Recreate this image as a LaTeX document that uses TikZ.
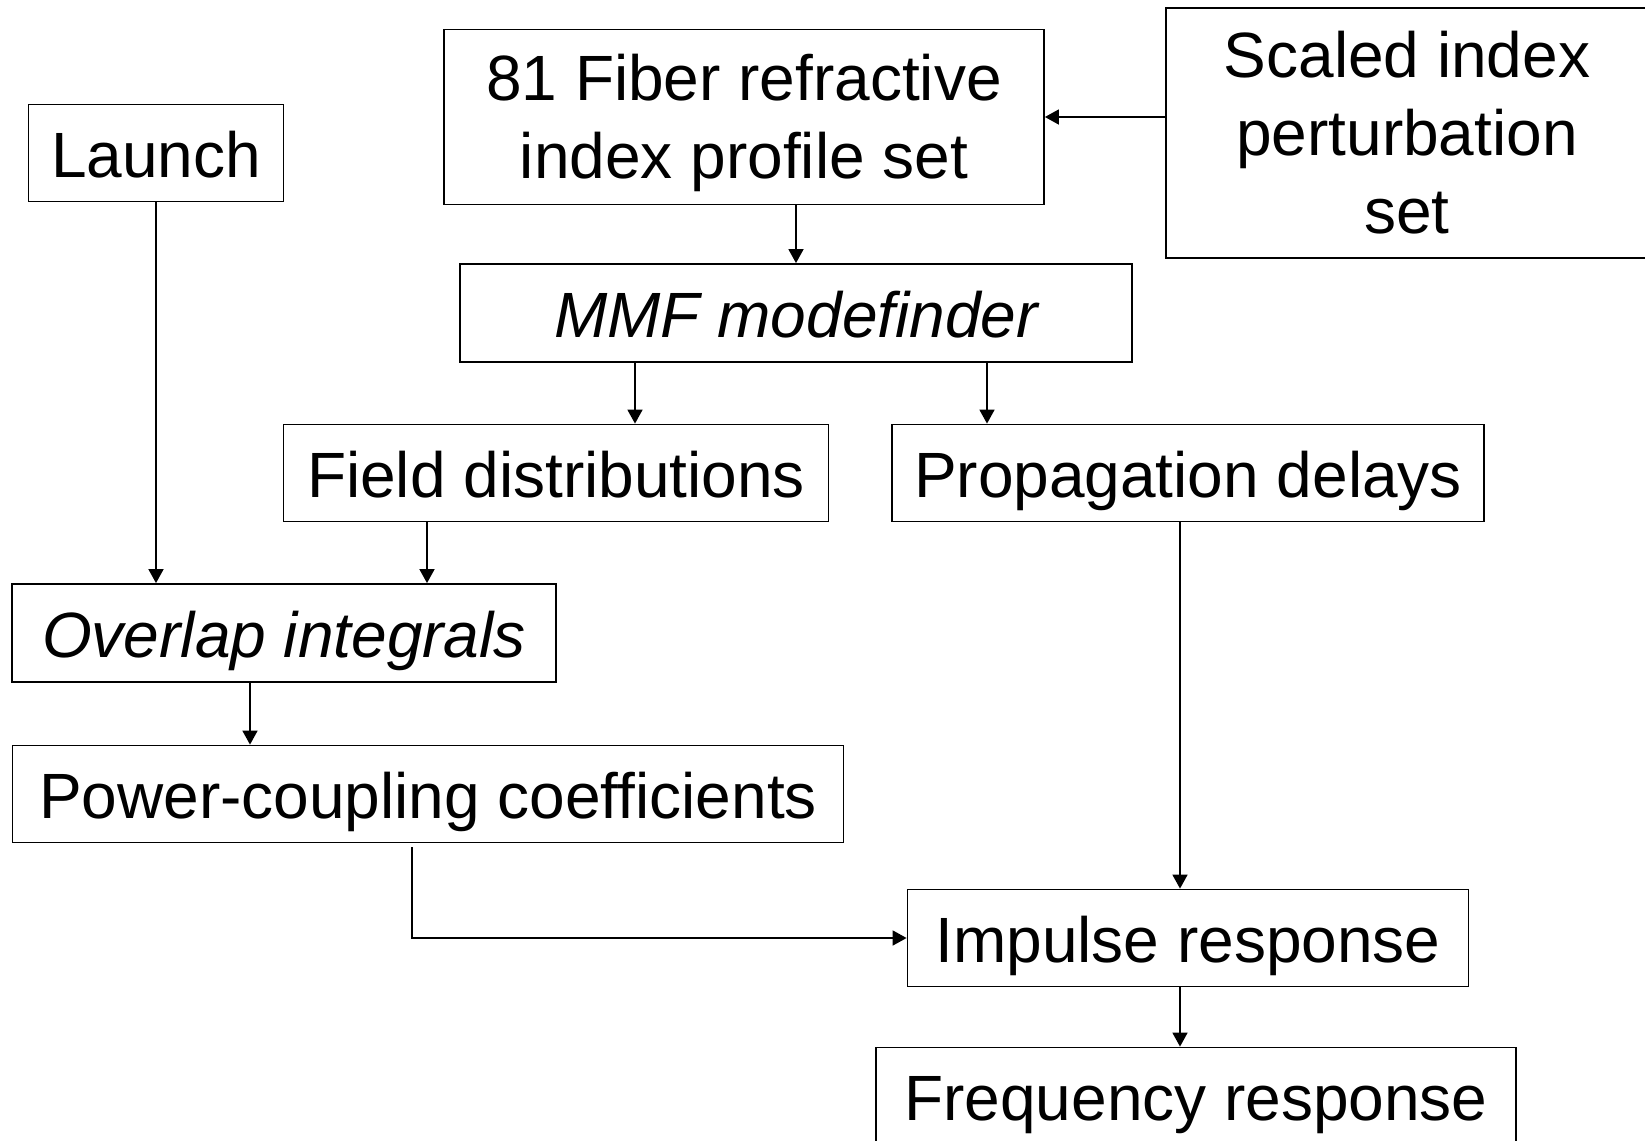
\documentclass[tikz,border=0pt]{standalone}
\usepackage{fontspec}
\setmainfont{Liberation Sans}
\usetikzlibrary{shapes,arrows.meta}

\tikzset{
  box/.style={draw, line width=0.9pt, rectangle, inner sep=0pt, align=center,
    font=\fontsize{32}{39}\selectfont, minimum height=48.5pt},
  oneline/.style={text height=24.5pt, text depth=0pt},
  arr/.style={line width=0.85pt, -{Triangle[length=7pt,width=7.5pt]}},
}

\begin{document}
\begin{tikzpicture}[x=0.5pt,y=-0.5pt]
\useasboundingbox (0,0) rectangle (1645,1141);

%Shape: Rectangle [launch]
\node [box, oneline, minimum width=127.5pt] (launch) at (156,153) {Launch};
%Shape: Rectangle [fiber]
\node [box, text height=68.5pt, text depth=6.7pt, minimum width=300pt, minimum height=87.5pt] (fiber) at (744,117) {81 Fiber refractive\\index profile set};
%Shape: Rectangle [scaled]
\node [box, minimum width=241pt, minimum height=125pt] (scaled) at (1407,133) {Scaled index\\perturbation\\set};
%Shape: Rectangle [mmf]
\node [box, oneline, minimum width=336pt, minimum height=49pt] (mmf) at (796,313) {\itshape MMF modefinder};
%Shape: Rectangle [field]
\node [box, oneline, minimum width=272.5pt] (field) at (556,473) {Field distributions};
%Shape: Rectangle [prop]
\node [box, oneline, minimum width=296pt] (prop) at (1188,473) {Propagation delays};
%Shape: Rectangle [overlap]
\node [box, oneline, minimum width=272pt, minimum height=49pt] (overlap) at (284,633) {\itshape Overlap integrals};
%Shape: Rectangle [power]
\node [box, oneline, minimum width=415.5pt] (power) at (428,794) {Power-coupling coefficients};
%Shape: Rectangle [impulse]
\node [box, oneline, minimum width=280.5pt] (impulse) at (1188,938) {Impulse response};
%Shape: Rectangle [freq]
\node [box, oneline, minimum width=320pt] (freq) at (1196,1096) {Frequency response};

%Straight Lines
\draw [arr] (scaled.west |- fiber.east) -- (fiber.east);
\draw [arr] (fiber.south -| mmf.north) -- (mmf.north);
\draw [arr] ([xshift=-80.5pt]mmf.south) -- ([xshift=-80.5pt]mmf.south |- field.north);
\draw [arr] ([xshift=95.5pt]mmf.south) -- ([xshift=95.5pt]mmf.south |- prop.north);
\draw [arr] (launch.south) -- (launch.south |- overlap.north);
\draw [arr] ([xshift=-64.5pt]field.south) -- ([xshift=-64.5pt]field.south |- overlap.north);
\draw [arr] ([xshift=-17pt]overlap.south) -- ([xshift=-17pt]overlap.south |- power.north);
\draw [arr] ([xshift=-8pt,yshift=-2pt]power.south) |- (impulse.west);
\draw [arr] ([xshift=-4pt]prop.south) -- ([xshift=-4pt]prop.south |- impulse.north);
\draw [arr] ([xshift=-4pt]impulse.south) -- ([xshift=-4pt]impulse.south |- freq.north);

\end{tikzpicture}
\end{document}
